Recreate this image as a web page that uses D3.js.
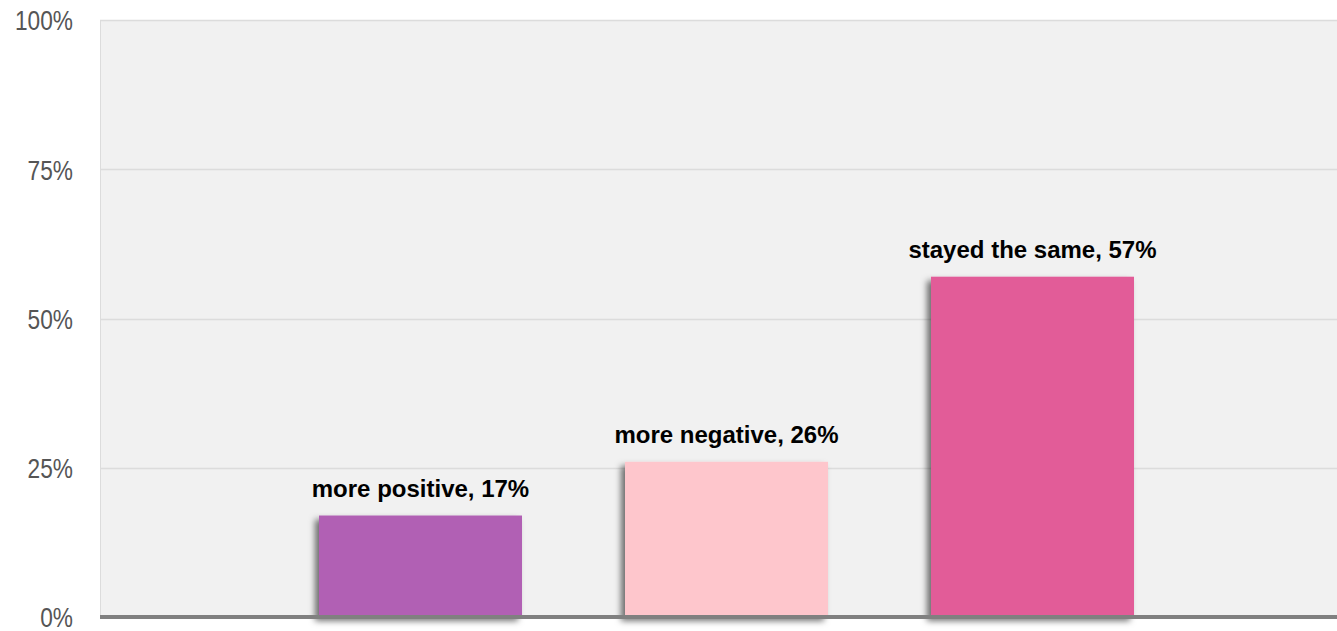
<!DOCTYPE html>
<html>
<head>
<meta charset="utf-8">
<script src="https://cdn.jsdelivr.net/npm/d3@7"></script>
<style>
  html, body { margin: 0; padding: 0; background: #fff; }
  svg { display: block; }
</style>
</head>
<body>
<div id="chart"></div>
<script>
const categories = ["more positive", "more negative", "stayed the same"];
const values = [17, 26, 57];
const colors = ["#b160b4", "#fec6cc", "#e25c98"];
const tickValues = [0, 25, 50, 75, 100];

const width = 1337, height = 631;
const margin = { top: 20, right: 0, bottom: 14, left: 100 };

const svg = d3.select("#chart").append("svg")
    .attr("width", width)
    .attr("height", height);

// shadow on the left edge of the bars
const defs = svg.append("defs");
defs.append("filter")
    .attr("id", "shadow")
    .attr("x", "-20%").attr("y", "-10%")
    .attr("width", "140%").attr("height", "130%")
    .append("feDropShadow")
    .attr("dx", -4).attr("dy", 4)
    .attr("stdDeviation", 3)
    .attr("flood-color", "#000")
    .attr("flood-opacity", 0.55);

const y = d3.scaleLinear()
    .domain([0, 100])
    .range([617, margin.top]);

const x = d3.scaleBand()
    .domain(categories)
    .range([margin.left, 1353])
    .paddingInner(0.3366)
    .paddingOuter(0.7157);

// plot background
svg.append("rect")
    .attr("x", margin.left)
    .attr("y", margin.top)
    .attr("width", width - margin.left)
    .attr("height", y(0) - margin.top)
    .attr("fill", "#f1f1f1");

svg.append("line")
    .attr("x1", margin.left + 0.5).attr("x2", margin.left + 0.5)
    .attr("y1", margin.top).attr("y2", y(0))
    .attr("stroke", "#dcdcdc");

// grid
svg.append("g")
    .selectAll("line")
    .data(tickValues.filter(d => d > 0))
    .join("line")
    .attr("x1", margin.left)
    .attr("x2", width)
    .attr("y1", d => Math.round(y(d)) + 0.5)
    .attr("y2", d => Math.round(y(d)) + 0.5)
    .attr("stroke", "#dcdcdc")
    .attr("stroke-width", 1.5);

// y axis labels (narrow look via horizontal squeeze)
const yAxis = d3.axisLeft(y)
    .tickValues(tickValues)
    .tickFormat(d => d + "%")
    .tickSize(0)
    .tickPadding(0);

svg.append("g")
    .attr("transform", "translate(73,0)")
    .call(yAxis)
    .call(g => g.select(".domain").remove())
    .call(g => g.selectAll("text")
        .attr("fill", "#555")
        .attr("font-family", "'Liberation Sans', Arial, sans-serif")
        .attr("font-size", 28)
        .attr("x", 0)
        .attr("dy", "0.35em")
        .attr("transform", "scale(0.81,1)"));

// bars
svg.append("g")
    .selectAll("rect")
    .data(values)
    .join("rect")
    .attr("x", (d, i) => x(categories[i]))
    .attr("y", d => y(d))
    .attr("width", x.bandwidth())
    .attr("height", d => y(0) - y(d))
    .attr("fill", (d, i) => colors[i])
    .attr("filter", "url(#shadow)");

// baseline
svg.append("line")
    .attr("x1", margin.left)
    .attr("x2", width)
    .attr("y1", y(0))
    .attr("y2", y(0))
    .attr("stroke", "#808080")
    .attr("stroke-width", 4);

// value labels
svg.append("g")
    .selectAll("text")
    .data(values)
    .join("text")
    .attr("x", (d, i) => x(categories[i]) + x.bandwidth() / 2)
    .attr("y", d => y(d) - 19)
    .attr("text-anchor", "middle")
    .attr("font-family", "'Liberation Sans', Arial, sans-serif")
    .attr("font-weight", "bold")
    .attr("font-size", 24)
    .attr("fill", "#000")
    .text((d, i) => `${categories[i]}, ${d}%`);
</script>
</body>
</html>
